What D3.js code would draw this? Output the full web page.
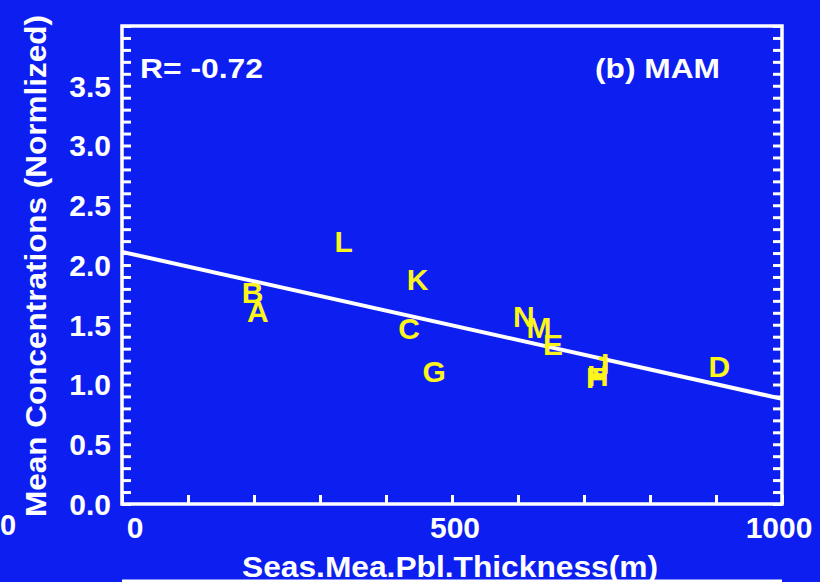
<!DOCTYPE html>
<html><head><meta charset="utf-8">
<script src="https://cdn.jsdelivr.net/npm/d3@7"></script>
<style>
html,body{margin:0;padding:0;background:#0c1ef0;}
svg{display:block;}
text{font-family:"Liberation Sans",Arial,sans-serif;font-weight:bold;}
</style></head>
<body>
<script>
// ---- data ----
const labels = ["A","B","C","D","E","F","G","H","I","J","K","L","M","N"];
const pblThickness = [206,198,435,905,653,717,473,721,732,726,448,336,632,609];
const meanConc     = [1.61,1.77,1.47,1.15,1.34,1.06,1.11,1.08,1.18,1.15,1.88,2.20,1.48,1.57];
const fitIntercept = 2.11;
const fitSlope = -0.00123;
const xTickLabels = [0,500,1000];
const yTickLabels = [0.0,0.5,1.0,1.5,2.0,2.5,3.0,3.5];
const rText = "R= -0.72";
const panelText = "(b) MAM";

const W = 820, H = 582;
const bg = "#0c1ef0", fg = "#ffffff", yellow = "#fbf51c";
const svg = d3.select("body").append("svg").attr("width",W).attr("height",H)
  .style("background",bg);
svg.append("rect").attr("width",W).attr("height",H).attr("fill",bg);

const x = d3.scaleLinear().domain([0,1000]).range([122,782]);
const y = d3.scaleLinear().domain([0,4]).range([504,26]);

// minor ticks
const xMinor = d3.range(0,1001,100);
const yMinor = d3.range(0,41,1).map(d=>d/10);

const gx = svg.append("g").attr("transform",`translate(0,${y(0)})`)
  .call(d3.axisBottom(x).tickValues(xMinor).tickSize(-9).tickSizeOuter(0).tickFormat(""));
const gyl = svg.append("g").attr("transform",`translate(${x(0)},0)`)
  .call(d3.axisLeft(y).tickValues(yMinor).tickSize(-9).tickSizeOuter(0).tickFormat(""));
const gyr = svg.append("g").attr("transform",`translate(${x(1000)},0)`)
  .call(d3.axisRight(y).tickValues(yMinor).tickSize(-9).tickSizeOuter(0).tickFormat(""));
[gx,gyl,gyr].forEach(g=>{
  g.selectAll(".tick line").attr("stroke",fg).attr("stroke-width",3);
  g.select(".domain").remove();
});

// frame
svg.append("rect").attr("x",x(0)).attr("y",y(4)).attr("width",x(1000)-x(0)).attr("height",y(0)-y(4))
  .attr("fill","none").attr("stroke",fg).attr("stroke-width",3.5);

// tick labels
svg.append("g").selectAll("text").data(yTickLabels).join("text")
  .attr("x",x(0)-11).attr("y",d=>y(d)).attr("dy","0.36em")
  .attr("text-anchor","end").attr("fill",fg).attr("font-size",30)
  .text(d=>d.toFixed(1));
svg.append("g").selectAll("text").data(xTickLabels).join("text")
  .attr("x",d=>x(d)+(d===0?13:(d===1000?-3:3))).attr("y",y(0)+34)
  .attr("text-anchor","middle").attr("fill",fg).attr("font-size",30)
  .text(d=>d);

// axis titles
svg.append("text").attr("x",450).attr("y",577).attr("text-anchor","middle")
  .attr("fill",fg).attr("font-size",29).attr("textLength",416).attr("lengthAdjust","spacingAndGlyphs")
  .text("Seas.Mea.Pbl.Thickness(m)");
svg.append("text").attr("transform","translate(46,266) rotate(-90)").attr("text-anchor","middle")
  .attr("fill",fg).attr("font-size",29).attr("textLength",502).attr("lengthAdjust","spacingAndGlyphs")
  .text("Mean Concentrations (Normlized)");

// annotations
svg.append("text").attr("x",140).attr("y",78).attr("fill",fg).attr("font-size",28)
  .attr("textLength",123).attr("lengthAdjust","spacingAndGlyphs").text(rText);
svg.append("text").attr("x",595).attr("y",78).attr("fill",fg).attr("font-size",28)
  .attr("textLength",125).attr("lengthAdjust","spacingAndGlyphs").text(panelText);

// regression line
svg.append("line")
  .attr("x1",x(0)).attr("y1",y(fitIntercept))
  .attr("x2",x(1000)).attr("y2",y(fitIntercept+fitSlope*1000))
  .attr("stroke",fg).attr("stroke-width",4);

// letters
const pts = labels.map((l,i)=>({l,x:pblThickness[i],y:meanConc[i]}));
svg.append("g").selectAll("text").data(pts).join("text")
  .attr("x",d=>x(d.x)).attr("y",d=>y(d.y)).attr("dy","0.36em")
  .attr("text-anchor","middle").attr("fill",yellow).attr("font-size",30)
  .text(d=>d.l);

// fragments of neighbouring panels at the edges
svg.append("text").attr("x",0).attr("y",535).attr("fill",fg).attr("font-size",29).text("0");
svg.append("text").attr("transform","translate(42,600) rotate(-90)").attr("fill",fg).attr("font-size",29).text("(");
svg.append("line").attr("x1",122).attr("x2",782).attr("y1",581).attr("y2",581).attr("stroke",fg).attr("stroke-width",3);
</script>
</body></html>
